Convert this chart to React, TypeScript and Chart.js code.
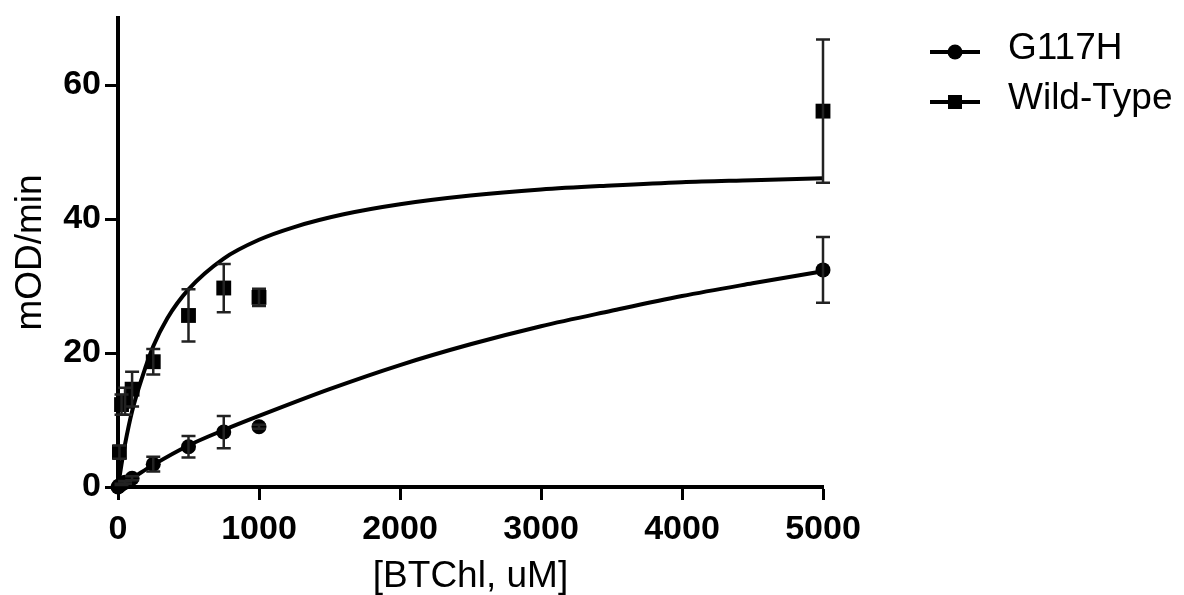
import React, { useEffect, useRef } from "react";
import { Chart, registerables } from "chart.js";

Chart.register(...registerables);

// ---- Data ----
const seriesNames = ["G117H", "Wild-Type"];
const xTicks = [0, 1000, 2000, 3000, 4000, 5000];
const yTicks = [0, 20, 40, 60];

// G117H measured points (mean ± error)
const mutX = [0, 10, 25, 50, 100, 250, 500, 750, 1000, 5000];
const mutY = [0, 0.2, 0.4, 0.7, 1.3, 3.4, 6.0, 8.2, 9.0, 32.4];
const mutErr = [0, 0, 0.1, 0.2, 0.3, 1.1, 1.6, 2.4, 0.3, 4.9];

// Wild-Type measured points (mean ± error)
const wtX = [10, 25, 50, 100, 250, 500, 750, 1000, 5000];
const wtY = [5.2, 12.3, 12.8, 14.6, 18.7, 25.6, 29.7, 28.3, 56.1];
const wtErr = [1.0, 1.5, 2.0, 2.6, 1.9, 3.9, 3.6, 1.3, 10.7];

// Fitted curves
const wtCurveX = [0, 25, 50, 100, 175, 250, 350, 500, 750, 1000, 1250, 1600, 2000, 2500, 3000, 3500, 4000, 4500, 5000];
const wtCurveY = [0, 3.4, 6.4, 11.3, 16.6, 21.0, 25.2, 29.5, 34.1, 36.9, 38.8, 40.7, 42.2, 43.5, 44.4, 45.0, 45.5, 45.8, 46.1];
const mutCurveX = [0, 100, 250, 500, 750, 1000, 1500, 2000, 2500, 3000, 3500, 4000, 4500, 5000];
const mutCurveY = [0, 1.3, 3.3, 6.2, 8.5, 10.6, 14.6, 18.2, 21.3, 24.0, 26.3, 28.5, 30.4, 32.2];

const FONT = '"Liberation Sans", Arial, Helvetica, sans-serif';

const toPts = (xs: number[], ys: number[]) => xs.map((x, i) => ({ x, y: ys[i] }));

const errorBarPlugin = {
  id: "errorBars",
  afterDatasetsDraw(chart: any) {
    const { ctx, scales } = chart;
    const xs = scales.x;
    const ys = scales.y;
    const sets: [number[], number[], number[]][] = [
      [mutX, mutY, mutErr],
      [wtX, wtY, wtErr],
    ];
    ctx.save();
    ctx.strokeStyle = "#222";
    ctx.lineWidth = 2.5;
    sets.forEach(([X, Y, E]) => {
      X.forEach((xv, i) => {
        const e = E[i];
        if (!e) return;
        const px = xs.getPixelForValue(xv);
        const top = ys.getPixelForValue(Y[i] + e);
        const bot = ys.getPixelForValue(Y[i] - e);
        ctx.beginPath();
        ctx.moveTo(px, top);
        ctx.lineTo(px, bot);
        ctx.moveTo(px - 7, top);
        ctx.lineTo(px + 7, top);
        ctx.moveTo(px - 7, bot);
        ctx.lineTo(px + 7, bot);
        ctx.stroke();
      });
    });
    ctx.restore();
  },
};

const legendPlugin = {
  id: "customLegend",
  afterDraw(chart: any) {
    const { ctx } = chart;
    ctx.save();
    const rows = [
      { y: 52, name: seriesNames[0], style: "circle" },
      { y: 102, name: seriesNames[1], style: "rect" },
    ];
    rows.forEach((r) => {
      ctx.strokeStyle = "#000";
      ctx.fillStyle = "#000";
      ctx.lineWidth = 4;
      ctx.beginPath();
      ctx.moveTo(930, r.y);
      ctx.lineTo(980, r.y);
      ctx.stroke();
      if (r.style === "circle") {
        ctx.beginPath();
        ctx.arc(955, r.y, 7.5, 0, Math.PI * 2);
        ctx.fill();
      } else {
        ctx.fillRect(955 - 7, r.y - 7, 14, 14);
      }
      ctx.font = `37px ${FONT}`;
      ctx.textBaseline = "middle";
      ctx.textAlign = "left";
      ctx.fillText(r.name, 1008, r.y - 3);
    });
    ctx.restore();
  },
};

export default function App() {
  const ref = useRef<HTMLCanvasElement | null>(null);

  useEffect(() => {
    if (!ref.current) return;
    const chart = new Chart(ref.current, {
      type: "line",
      data: {
        datasets: [
          {
            label: seriesNames[0] + " points",
            data: toPts(mutX, mutY),
            showLine: false,
            pointStyle: "circle",
            pointRadius: 7.5,
            pointBackgroundColor: "#000",
            pointBorderWidth: 0,
            borderColor: "#000",
            clip: false,
          } as any,
          {
            label: seriesNames[1] + " points",
            data: toPts(wtX, wtY),
            showLine: false,
            pointStyle: "rect",
            pointRadius: 10.5,
            pointBackgroundColor: "#000",
            pointBorderWidth: 0,
            borderColor: "#000",
            clip: false,
          } as any,
          {
            label: seriesNames[0] + " fit",
            data: toPts(mutCurveX, mutCurveY),
            borderColor: "#000",
            borderWidth: 4,
            pointRadius: 0,
            cubicInterpolationMode: "monotone",
            fill: false,
            clip: false,
          } as any,
          {
            label: seriesNames[1] + " fit",
            data: toPts(wtCurveX, wtCurveY),
            borderColor: "#000",
            borderWidth: 4,
            pointRadius: 0,
            cubicInterpolationMode: "monotone",
            fill: false,
            clip: false,
          } as any,
        ],
      },
      options: {
        animation: false,
        responsive: false,
        devicePixelRatio: 1,
        layout: { padding: { left: 0, right: 361, top: 18, bottom: 0 } },
        plugins: {
          legend: { display: false },
          tooltip: { enabled: false },
        },
        scales: {
          x: {
            type: "linear",
            min: 0,
            max: 5000,
            afterBuildTicks: (axis: any) => {
              axis.ticks = xTicks.map((v) => ({ value: v }));
            },
            afterFit: (axis: any) => {
              axis.height = 108;
            },
            ticks: {
              color: "#000",
              font: { family: FONT, size: 34, weight: "bold" },
              padding: 9,
              maxRotation: 0,
              autoSkip: false,
              callback: (v: any) => String(v),
            },
            grid: {
              drawOnChartArea: false,
              drawTicks: true,
              tickLength: 13,
              tickWidth: 3,
              tickColor: "#000",
            },
            border: { display: true, color: "#000", width: 4 },
            title: {
              display: true,
              text: "[BTChl, uM]",
              color: "#000",
              font: { family: FONT, size: 37, lineHeight: 1 },
              padding: { top: 0, bottom: 0 },
            },
          },
          y: {
            type: "linear",
            min: 0,
            max: 70,
            afterBuildTicks: (axis: any) => {
              axis.ticks = yTicks.map((v) => ({ value: v }));
            },
            afterFit: (axis: any) => {
              axis.width = 118;
              axis.paddingTop = 0;
              axis.paddingBottom = 0;
            },
            ticks: {
              color: "#000",
              font: { family: FONT, size: 34, weight: "bold" },
              padding: 4,
              callback: (v: any) => String(v),
            },
            grid: {
              drawOnChartArea: false,
              drawTicks: true,
              tickLength: 13,
              tickWidth: 3,
              tickColor: "#000",
            },
            border: { display: true, color: "#000", width: 4 },
            title: {
              display: true,
              text: "mOD/min",
              color: "#000",
              font: { family: FONT, size: 37, lineHeight: 1.2 },
              padding: { top: 9, bottom: 0 },
            },
          },
        },
      } as any,
      plugins: [errorBarPlugin, legendPlugin],
    });
    return () => chart.destroy();
  }, []);

  return (
    <div style={{ position: "fixed", left: 0, top: 0, width: 1184, height: 595, background: "#fff" }}>
      <canvas ref={ref} width={1184} height={595} style={{ display: "block" }} />
    </div>
  );
}
